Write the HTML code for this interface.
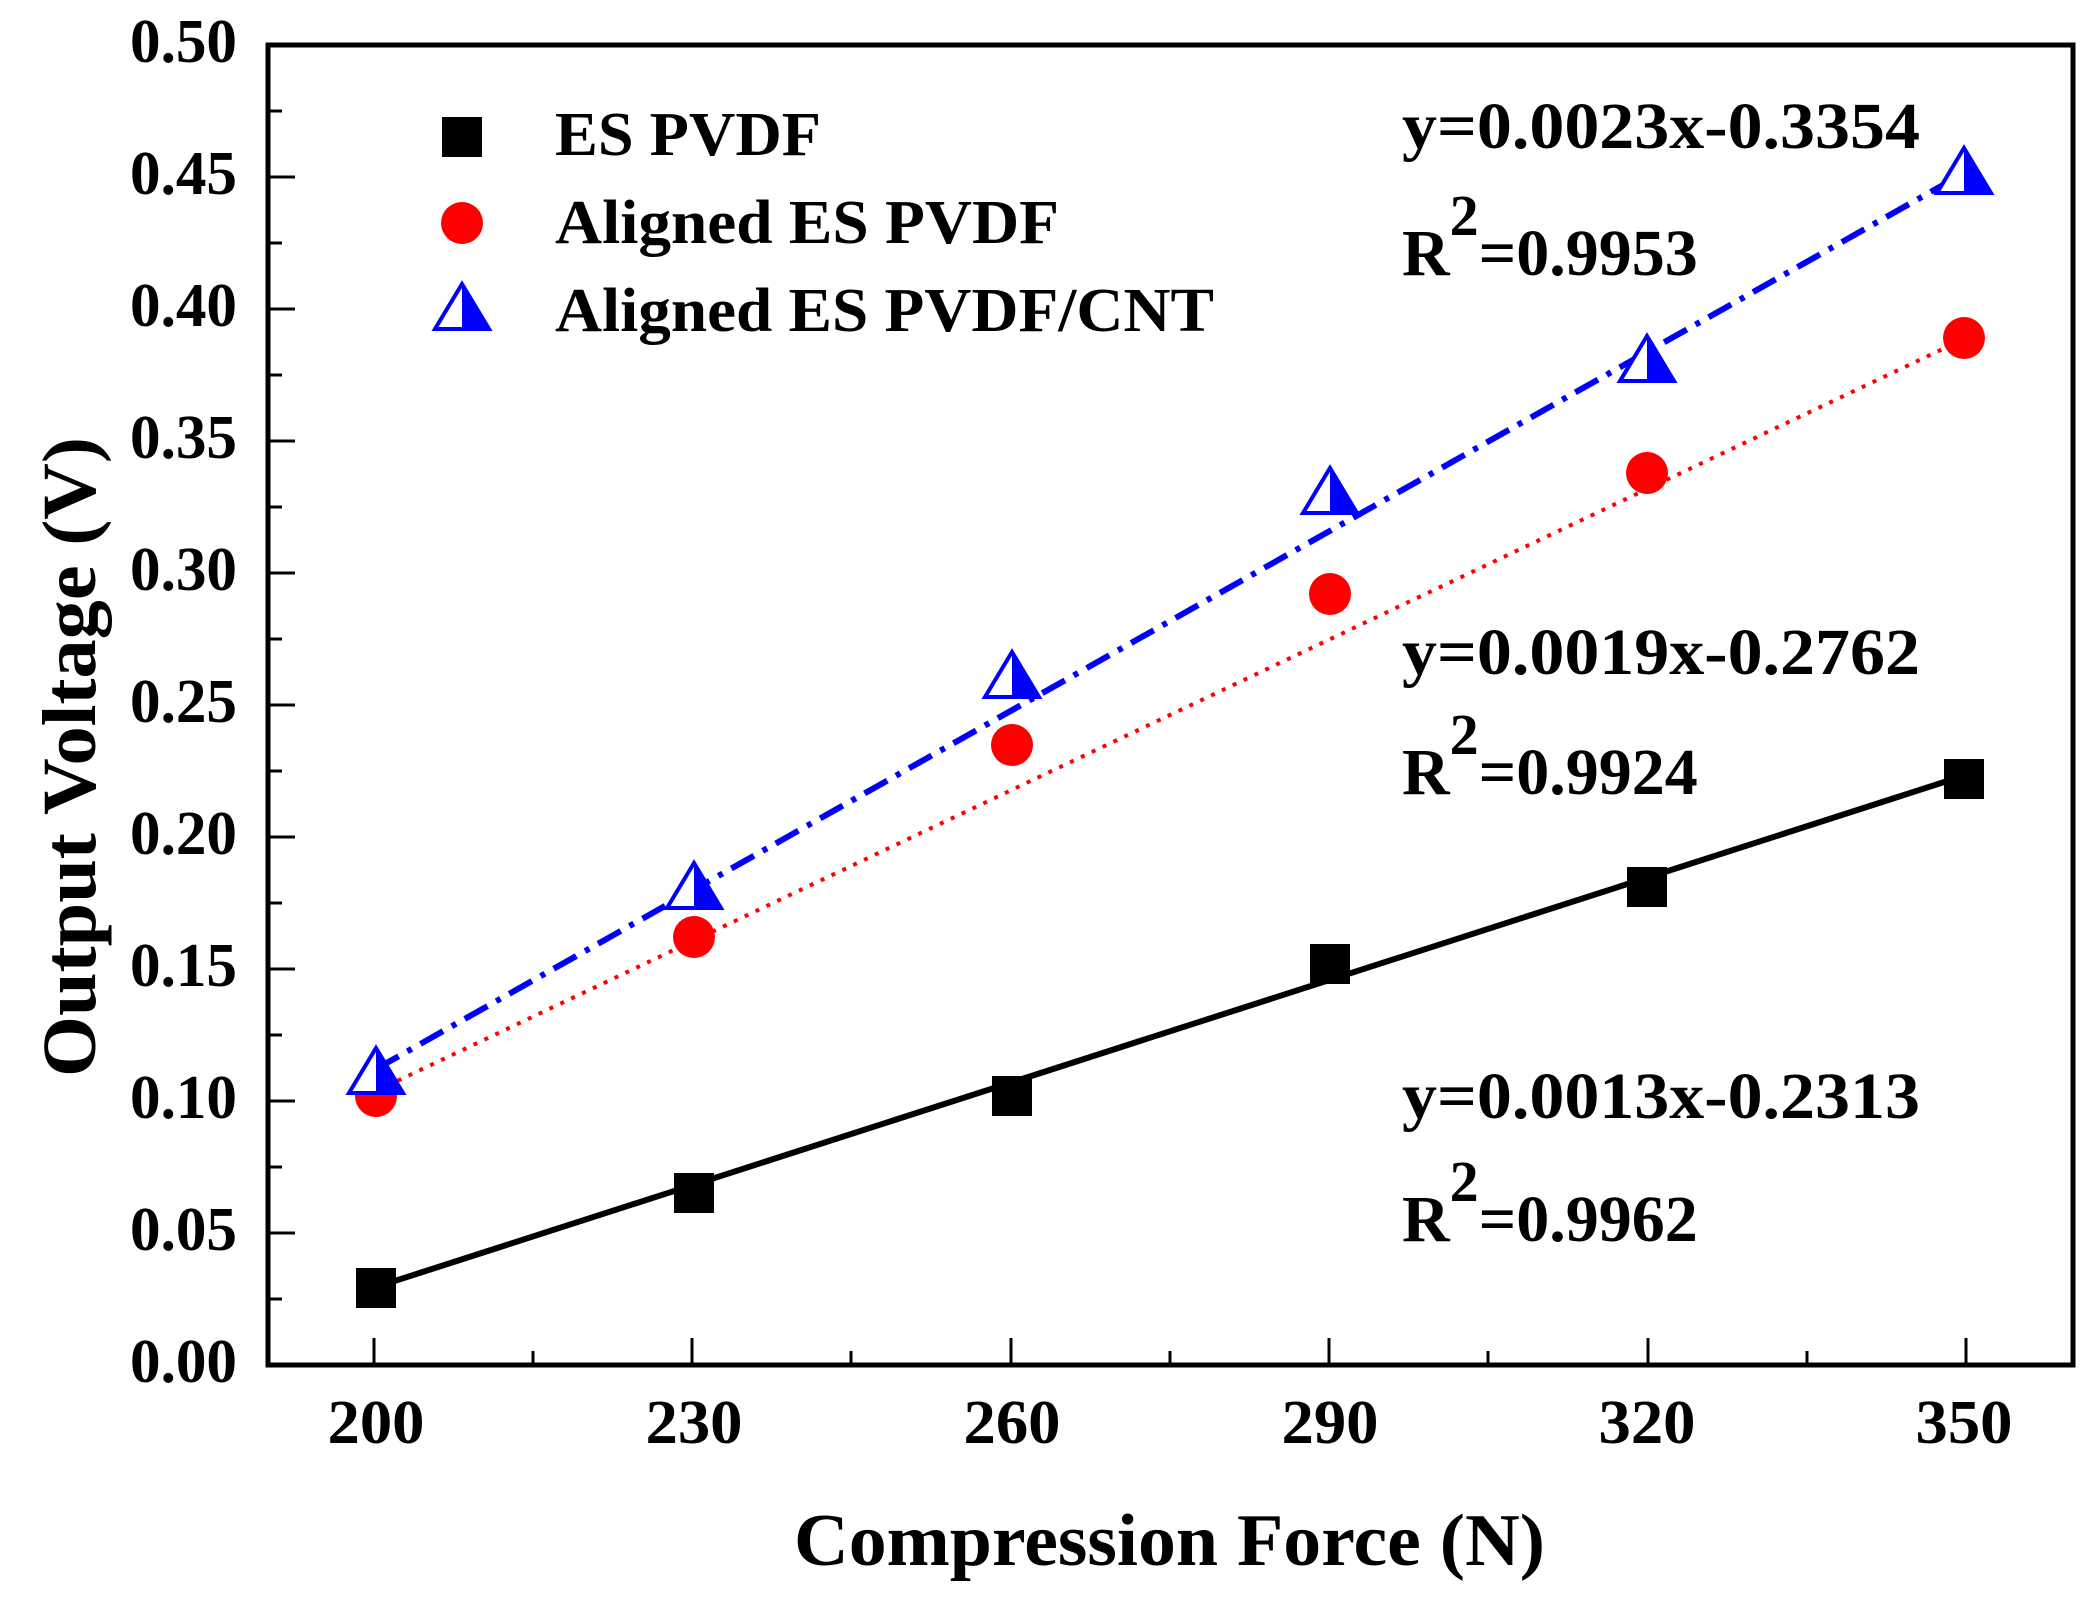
<!DOCTYPE html>
<html><head><meta charset="utf-8"><style>body{margin:0;background:#fff}svg{display:block}</style></head><body>
<svg width="2100" height="1600" viewBox="0 0 2100 1600" xmlns="http://www.w3.org/2000/svg" font-family="Liberation Serif, serif" font-weight="bold">
<rect width="2100" height="1600" fill="#fff"/>
<g stroke="#000" stroke-width="3">
<path d="M268 1365h27M268 1233h27M268 1101h27M268 969h27M268 837h27M268 705h27M268 573h27M268 441h27M268 309h27M268 177h27M268 45h27"/>
<path d="M268 1299h14M268 1167h14M268 1035h14M268 903h14M268 771h14M268 639h14M268 507h14M268 375h14M268 243h14M268 111h14"/>
<path d="M374 1365v-27M692 1365v-27M1011 1365v-27M1329 1365v-27M1648 1365v-27M1966 1365v-27"/>
<path d="M533 1365v-14M851 1365v-14M1170 1365v-14M1488 1365v-14M1807 1365v-14"/>
</g>
<rect x="268" y="45" width="1805" height="1320" fill="none" stroke="#000" stroke-width="5"/>
<g font-size="62" text-anchor="end">
<text x="237" y="62" textLength="107" lengthAdjust="spacingAndGlyphs">0.50</text>
<text x="237" y="194" textLength="107" lengthAdjust="spacingAndGlyphs">0.45</text>
<text x="237" y="326" textLength="107" lengthAdjust="spacingAndGlyphs">0.40</text>
<text x="237" y="458" textLength="107" lengthAdjust="spacingAndGlyphs">0.35</text>
<text x="237" y="590" textLength="107" lengthAdjust="spacingAndGlyphs">0.30</text>
<text x="237" y="722" textLength="107" lengthAdjust="spacingAndGlyphs">0.25</text>
<text x="237" y="854" textLength="107" lengthAdjust="spacingAndGlyphs">0.20</text>
<text x="237" y="986" textLength="107" lengthAdjust="spacingAndGlyphs">0.15</text>
<text x="237" y="1118" textLength="107" lengthAdjust="spacingAndGlyphs">0.10</text>
<text x="237" y="1250" textLength="107" lengthAdjust="spacingAndGlyphs">0.05</text>
<text x="237" y="1382" textLength="107" lengthAdjust="spacingAndGlyphs">0.00</text>
</g>
<g font-size="62" text-anchor="middle">
<text x="376" y="1443" textLength="97" lengthAdjust="spacingAndGlyphs">200</text>
<text x="694" y="1443" textLength="97" lengthAdjust="spacingAndGlyphs">230</text>
<text x="1012" y="1443" textLength="97" lengthAdjust="spacingAndGlyphs">260</text>
<text x="1330" y="1443" textLength="97" lengthAdjust="spacingAndGlyphs">290</text>
<text x="1647" y="1443" textLength="97" lengthAdjust="spacingAndGlyphs">320</text>
<text x="1964" y="1443" textLength="97" lengthAdjust="spacingAndGlyphs">350</text>
</g>
<text x="794" y="1565" font-size="74" textLength="751" lengthAdjust="spacingAndGlyphs">Compression Force (N)</text>
<text transform="translate(95,1077) rotate(-90)" font-size="76" textLength="640" lengthAdjust="spacingAndGlyphs">Output Voltage (V)</text>
<line x1="376" y1="1287" x2="1966" y2="775" stroke="#000" stroke-width="6"/>
<line x1="376" y1="1091" x2="1966" y2="338" stroke="#f00" stroke-width="4" stroke-dasharray="4 8"/>
<line x1="376" y1="1069" x2="1966" y2="172" stroke="#00f" stroke-width="6" stroke-dasharray="26 10 5 10"/>
<g fill="#000">
<rect x="356" y="1268" width="40" height="40"/>
<rect x="674" y="1173" width="40" height="40"/>
<rect x="992" y="1076" width="40" height="40"/>
<rect x="1310" y="944" width="40" height="40"/>
<rect x="1627" y="867" width="40" height="40"/>
<rect x="1944" y="759" width="40" height="40"/>
<rect x="442" y="117" width="40" height="40"/>
</g>
<g fill="#f00">
<circle cx="376" cy="1096" r="21"/>
<circle cx="694" cy="937" r="21"/>
<circle cx="1012" cy="745" r="21"/>
<circle cx="1330" cy="594" r="21"/>
<circle cx="1647" cy="473" r="21"/>
<circle cx="1964" cy="338" r="21"/>
<circle cx="462" cy="223" r="21"/>
</g>
<defs><g id="tri"><path d="M0 -24 L27 21 L-27 21 Z" fill="#fff" stroke="#00f" stroke-width="4"/><path d="M0 -24 L27 21 L0 21 Z" fill="#00f"/></g></defs>
<use href="#tri" x="376" y="1072"/>
<use href="#tri" x="694" y="887"/>
<use href="#tri" x="1012" y="676"/>
<use href="#tri" x="1330" y="492"/>
<use href="#tri" x="1647" y="360"/>
<use href="#tri" x="1964" y="172"/>
<use href="#tri" x="462" y="308"/>
<g font-size="62">
<text x="555" y="155" textLength="266" lengthAdjust="spacingAndGlyphs">ES PVDF</text>
<text x="555" y="243" textLength="504" lengthAdjust="spacingAndGlyphs">Aligned ES PVDF</text>
<text x="555" y="331" textLength="659" lengthAdjust="spacingAndGlyphs">Aligned ES PVDF/CNT</text>
</g>
<g font-size="66">
<text x="1402" y="148" textLength="518" lengthAdjust="spacingAndGlyphs">y=0.0023x-0.3354</text>
<text x="1402" y="275">R<tspan font-size="58" dy="-40">2</tspan><tspan dy="40">=0.9953</tspan></text>
<text x="1402" y="674" textLength="518" lengthAdjust="spacingAndGlyphs">y=0.0019x-0.2762</text>
<text x="1402" y="794">R<tspan font-size="58" dy="-40">2</tspan><tspan dy="40">=0.9924</tspan></text>
<text x="1402" y="1118" textLength="518" lengthAdjust="spacingAndGlyphs">y=0.0013x-0.2313</text>
<text x="1402" y="1241">R<tspan font-size="58" dy="-40">2</tspan><tspan dy="40">=0.9962</tspan></text>
</g>
</svg>
</body></html>
